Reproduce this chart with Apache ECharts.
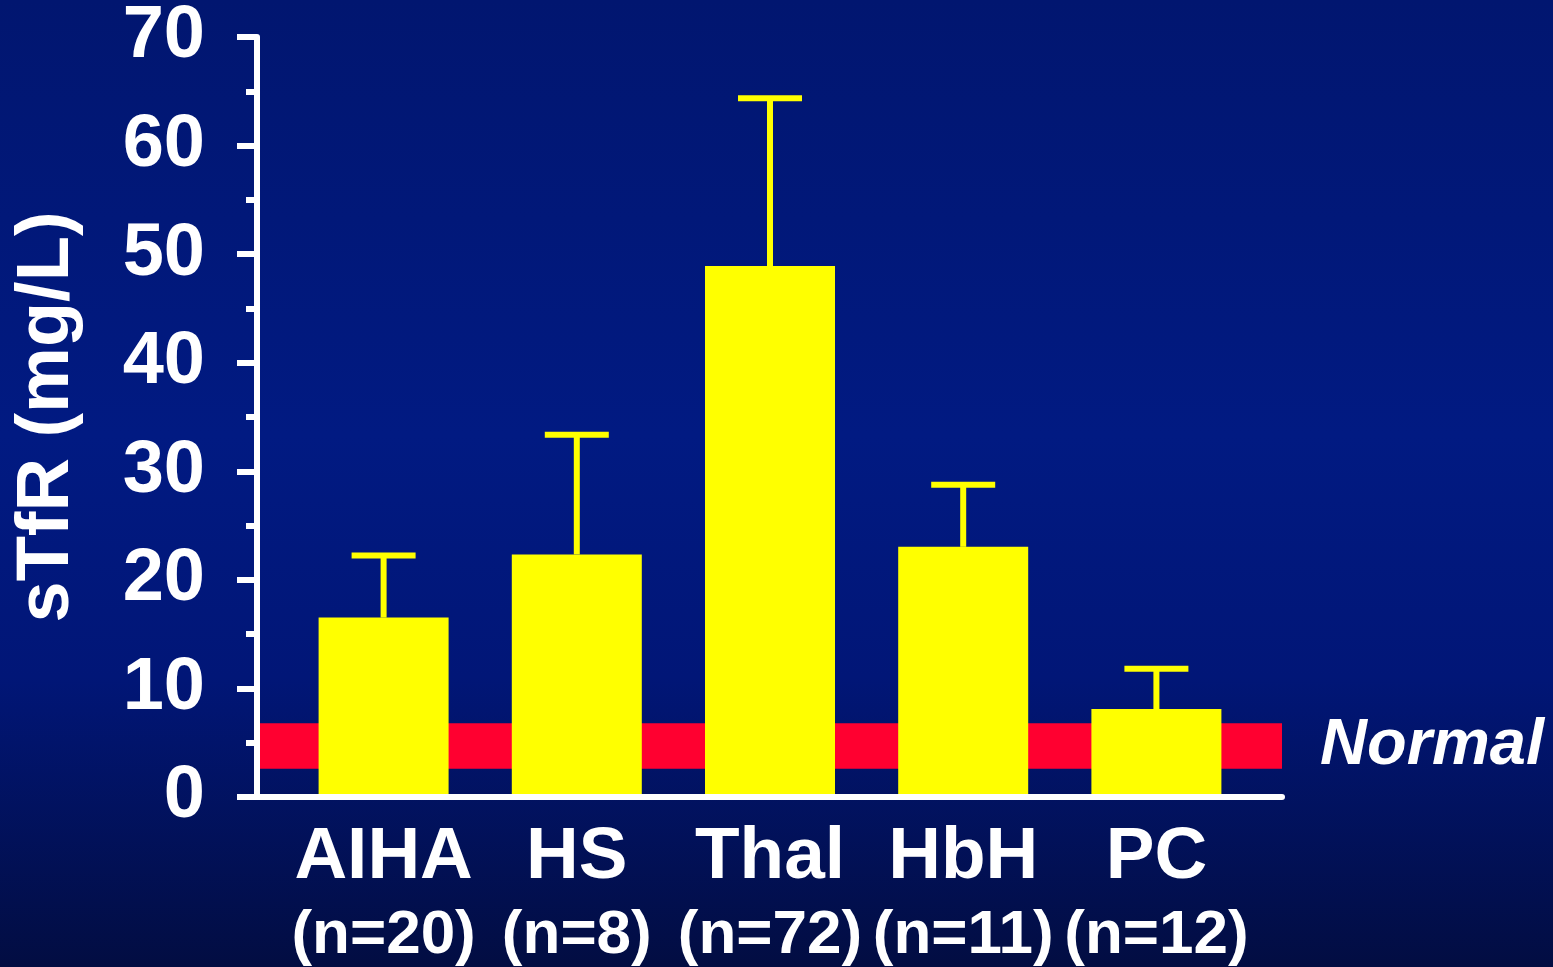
<!DOCTYPE html>
<html>
<head>
<meta charset="utf-8">
<script src="https://cdn.jsdelivr.net/npm/echarts@6/dist/echarts.min.js"></script>
<style>
html,body{margin:0;padding:0;width:1553px;height:967px;overflow:hidden;}
#chart{width:1553px;height:967px;background:linear-gradient(to bottom,#011670 0%,#011a82 45%,#011677 70%,#020d42 100%);}
</style>
</head>
<body>
<div id="chart"></div>
<script>
var categories = ['AIHA', 'HS', 'Thal', 'HbH', 'PC'];
var nCounts = [20, 8, 72, 11, 12];
var means = [16.3, 22.1, 48.6, 22.8, 7.9];
var upperErr = [22.0, 33.1, 64.0, 28.5, 11.6];
var normalRange = [2.6, 6.8];
var normalLabel = 'Normal';
var yAxisTitle = 'sTfR (mg/L)';
var yMin = 0, yMax = 70, yInterval = 10;

var FONT = '"Liberation Sans", Arial, Helvetica, sans-serif';
var chart = echarts.init(document.getElementById('chart'), null, {renderer: 'canvas'});

var errData = categories.map(function (c, i) { return [i, means[i], upperErr[i]]; });

var option = {
  backgroundColor: 'transparent',
  animation: false,
  grid: [
    {left: 287, right: 300, top: 33, bottom: 170},
    {left: 257, right: 271, top: 33, bottom: 170}
  ],
  xAxis: [
    {
      type: 'category', gridIndex: 0, data: categories,
      axisLine: {show: false}, axisTick: {show: false},
      axisLabel: {
        interval: 0, margin: 24,
        formatter: function (v, i) { return '{a|' + v + '}\n{b|(n=' + nCounts[i] + ')}'; },
        rich: {
          a: {fontFamily: FONT, fontWeight: 'bold', fontSize: 73, color: '#fff', lineHeight: 78},
          b: {fontFamily: FONT, fontWeight: 'bold', fontSize: 62, color: '#fff', lineHeight: 78}
        }
      }
    },
    {
      type: 'value', gridIndex: 1, min: 0, max: 1, z: 10,
      axisLine: {show: true, lineStyle: {color: '#fff', width: 6}},
      axisTick: {show: false}, axisLabel: {show: false}, splitLine: {show: false}
    }
  ],
  yAxis: [
    {
      type: 'value', gridIndex: 0, min: yMin, max: yMax, interval: yInterval,
      show: false, splitLine: {show: false}
    },
    {
      type: 'value', gridIndex: 1, min: yMin, max: yMax, interval: yInterval, z: 10,
      name: yAxisTitle, nameLocation: 'middle', nameGap: 172, nameRotate: 90,
      nameTextStyle: {fontFamily: FONT, fontWeight: 'bold', fontSize: 74, color: '#fff'},
      axisLine: {show: true, lineStyle: {color: '#fff', width: 6}},
      axisTick: {show: true, inside: false, length: 20, lineStyle: {color: '#fff', width: 6}},
      minorTick: {show: true, splitNumber: 2, length: 11, lineStyle: {color: '#fff', width: 6}},
      axisLabel: {fontFamily: FONT, fontWeight: 'bold', fontSize: 74, color: '#fff', margin: 52},
      splitLine: {show: false}
    }
  ],
  series: [
    {
      type: 'line', xAxisIndex: 1, yAxisIndex: 1, data: [], z: 1, silent: true,
      markArea: {
        silent: true,
        itemStyle: {color: '#ff0030'},
        label: {
          show: true, position: 'right', distance: 38, formatter: normalLabel,
          fontFamily: FONT, fontWeight: 'bold', fontStyle: 'italic', fontSize: 65, color: '#fff'
        },
        data: [[{yAxis: normalRange[0]}, {yAxis: normalRange[1]}]]
      }
    },
    {
      type: 'bar', xAxisIndex: 0, yAxisIndex: 0, data: means, barWidth: 130, z: 3,
      itemStyle: {color: '#ffff00'}
    },
    {
      type: 'custom', xAxisIndex: 0, yAxisIndex: 0, data: errData, z: 4,
      renderItem: function (params, api) {
        var x = api.value(0);
        var low = api.coord([x, api.value(1)]);
        var high = api.coord([x, api.value(2)]);
        var half = 32;
        var st = {stroke: '#ffff00', lineWidth: 6, fill: null};
        return {
          type: 'group',
          children: [
            {type: 'line', shape: {x1: low[0], y1: low[1], x2: high[0], y2: high[1]}, style: st},
            {type: 'line', shape: {x1: high[0] - half, y1: high[1], x2: high[0] + half, y2: high[1]}, style: st}
          ]
        };
      }
    }
  ]
};
chart.setOption(option);
</script>
</body>
</html>
